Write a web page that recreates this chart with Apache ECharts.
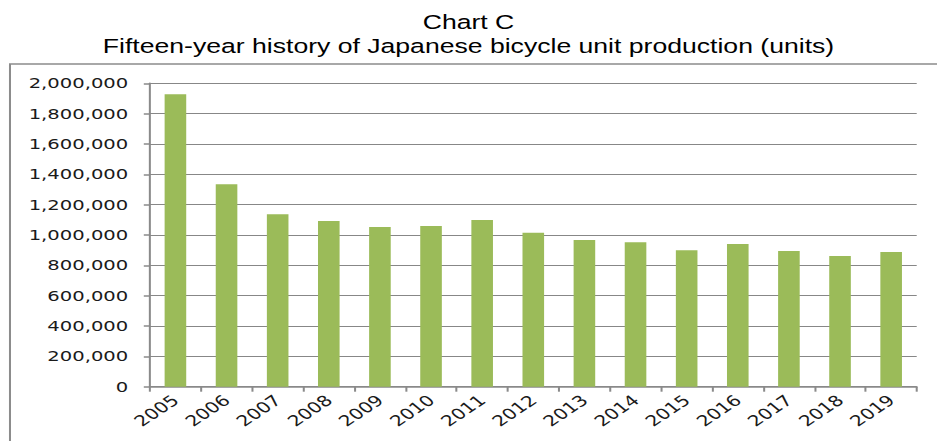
<!DOCTYPE html>
<html>
<head>
<meta charset="utf-8">
<script src="https://cdn.jsdelivr.net/npm/echarts@6/dist/echarts.min.js"></script>
<style>
	html, body { margin: 0; padding: 0; background: #fff; overflow: hidden; }
	/* the reference picture is stretched sideways, so the chart is drawn narrow and widened */
	#main { width: 694px; height: 441px; transform: scaleX(1.3501); transform-origin: 0 0; }
</style>
</head>
<body>
<div id="main"></div>
<script>
const years = ['2005', '2006', '2007', '2008', '2009', '2010', '2011', '2012',
	'2013', '2014', '2015', '2016', '2017', '2018', '2019'];
const units = [1927000, 1334000, 1136000, 1092000, 1053000, 1059000, 1099000, 1015000,
	967000, 952000, 899000, 941000, 895000, 862000, 888000];
const titleLines = ['Chart C', 'Fifteen-year history of Japanese bicycle unit production (units)'];

const chartDom = document.getElementById('main');
const myChart = echarts.init(chartDom, null, { renderer: 'svg' });

let option = {
	animation: false,
	backgroundColor: '#fff',
	title: {
		text: titleLines.join('\n'),
		left: 'center',
		top: 5,
		textStyle: {
			fontFamily: 'Liberation Sans, Arial, sans-serif',
			fontWeight: 'normal',
			fontSize: 19.7,
			lineHeight: 24,
			color: '#000'
		}
	},
	graphic: [{
		type: 'rect',
		shape: { x: 7.4, y: 64, width: 800, height: 500 },
		style: { fill: 'none', stroke: '#8c8c8c', lineWidth: 1.5 },
		silent: true
	}],
	grid: {
		left: 111,
		right: 15,
		top: 83.3,
		bottom: 54.3
	},
	xAxis: {
		type: 'category',
		data: years,
		axisLine: { lineStyle: { color: '#8a8a8a', width: 1.5 } },
		axisTick: { show: true, length: 5, alignWithLabel: false, lineStyle: { color: '#8a8a8a', width: 1.5 } },
		axisLabel: {
			rotate: 42,
			margin: 11,
			interval: 0,
			fontFamily: 'DejaVu Sans, sans-serif',
			fontSize: 15,
			color: '#1a1a1a'
		}
	},
	yAxis: {
		type: 'value',
		min: 0,
		max: 2000000,
		interval: 200000,
		axisLine: { show: true, lineStyle: { color: '#8a8a8a', width: 1.5 } },
		axisTick: { show: true, length: 4.5, lineStyle: { color: '#8a8a8a', width: 1.5 } },
		splitLine: { lineStyle: { color: '#878787', width: 1.2 } },
		axisLabel: {
			margin: 16,
			fontFamily: 'DejaVu Sans, sans-serif',
			fontSize: 14.5,
			color: '#1a1a1a',
			formatter: (v) => v.toLocaleString('en-US')
		}
	},
	series: [{
		type: 'bar',
		data: units,
		barWidth: 16,
		itemStyle: { color: '#9bbb59' }
	}]
};

myChart.setOption(option);
</script>
</body>
</html>
